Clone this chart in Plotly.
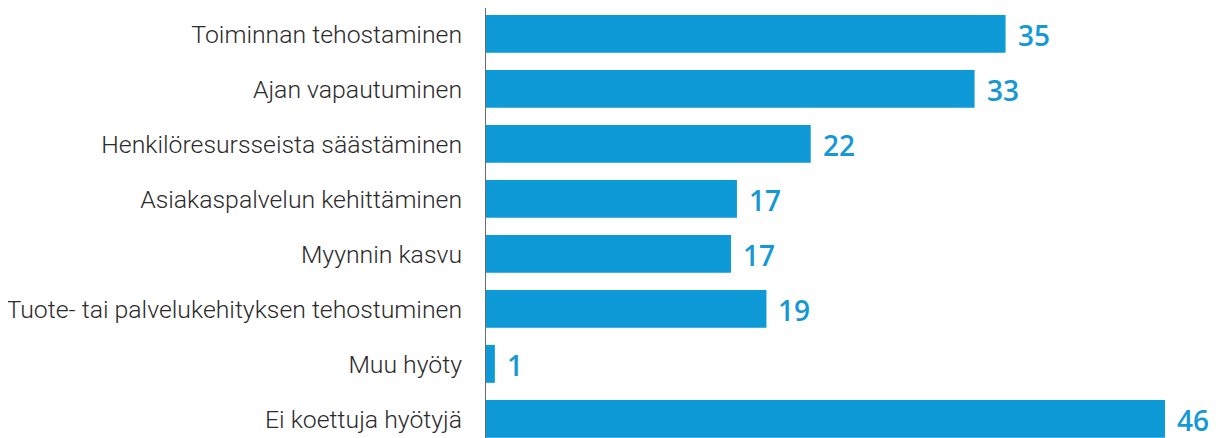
import plotly.graph_objects as go

# Benefits (share of respondents, %)
categories = [
    "Toiminnan tehostaminen",
    "Ajan vapautuminen",
    "Henkilöresursseista säästäminen",
    "Asiakaspalvelun kehittäminen",
    "Myynnin kasvu",
    "Tuote- tai palvelukehityksen tehostuminen",
    "Muu hyöty",
    "Ei koettuja hyötyjä",
]
shares = [35.2, 33.1, 22.0, 17.0, 16.6, 19.0, 0.6, 46.0]
value_labels = ["35", "33", "22", "17", "17", "19", "1", "46"]

bar_color = "#0d9ad6"
label_color = "#1598d6"

fig = go.Figure()

fig.add_trace(go.Bar(
    x=shares,
    y=categories,
    orientation="h",
    marker=dict(color=bar_color, line=dict(width=0)),
    width=0.69,
    hoverinfo="skip",
    showlegend=False,
))

# value labels to the right of each bar
for cat, val, txt in zip(categories, shares, value_labels):
    fig.add_annotation(
        x=val, y=cat, text=txt,
        xanchor="left", yanchor="middle",
        xshift=10, yshift=-1,
        showarrow=False,
        font=dict(family="'Open Sans', sans-serif", size=28,
                  color=label_color, weight=600),
    )

# page body has an 8px margin, so the figure is a bit smaller than the window
fig.update_layout(
    width=1224, height=430,
    margin=dict(l=478, r=0, t=0, b=0),
    paper_bgcolor="white",
    plot_bgcolor="white",
    xaxis=dict(
        range=[0, 50.54],
        visible=False,
        automargin=False,
        fixedrange=True,
    ),
    yaxis=dict(
        type="category",
        categoryorder="array",
        categoryarray=categories,
        range=[7.348, -0.47],
        automargin=False,
        showline=True,
        linecolor="#6b6b6b",
        linewidth=1,
        showgrid=False,
        ticks="",
        ticklabelstandoff=18,
        tickfont=dict(family="Roboto, sans-serif", size=24.8, color="#2b2b2b",
                      weight=300),
        fixedrange=True,
    ),
)

fig.write_html("out.html")
